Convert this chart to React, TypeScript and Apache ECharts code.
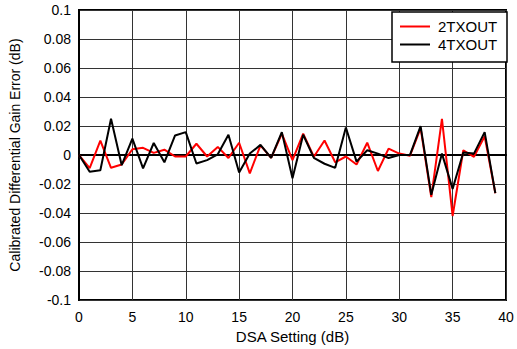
import React, { useEffect, useRef } from "react";
import * as echarts from "echarts";

const dsaSettings = Array.from({ length: 40 }, (_, i) => i);
const tx2 = [
  0, -0.009, 0.01, -0.0088, -0.0065, 0.004, 0.005, 0.0015, 0.0037, -0.001,
  -0.001, 0.0078, -0.001, 0.0056, -0.002, 0.0085, -0.0126, 0.0067, -0.002, 0.0147,
  -0.0035, 0.0147, -0.0012, 0.01, -0.005, -0.001, -0.0065, 0.0085, -0.011, 0.0044,
  0.001, -0.0005, 0.0186, -0.029, 0.0249, -0.042, 0.0033, -0.0012, 0.013, -0.0263,
];
const tx4 = [
  0, -0.0115, -0.0105, 0.025, -0.007, 0.0113, -0.0092, 0.0083, -0.005, 0.0135,
  0.0158, -0.0058, -0.0035, 0.0005, 0.014, -0.012, 0.001, 0.007, -0.002, 0.0158,
  -0.016, 0.014, -0.002, -0.006, -0.0088, 0.019, -0.0045, 0.0033, 0.001, -0.002,
  0, 0, 0.02, -0.0274, 0.001, -0.0233, 0.0017, 0.001, 0.0158, -0.0263,
];
const seriesNames = ["2TXOUT", "4TXOUT"];

export default function App() {
  const ref = useRef<HTMLDivElement>(null);
  useEffect(() => {
    const chart = echarts.init(ref.current!, undefined, { renderer: "svg" });
    const font = "'Liberation Sans', Arial, sans-serif";
    chart.setOption({
      animation: false,
      textStyle: { fontFamily: font },
      grid: {
        left: 79,
        right: 11,
        top: 10,
        bottom: 46,
        show: true,
        borderColor: "#000",
        borderWidth: 2,
        backgroundColor: "transparent",
      },
      xAxis: {
        type: "value",
        min: 0,
        max: 40,
        interval: 5,
        name: "DSA Setting (dB)",
        nameLocation: "middle",
        nameGap: 28,
        nameTextStyle: { fontSize: 15, color: "#000", fontFamily: font },
        axisLine: { show: true, lineStyle: { color: "#000", width: 2 } },
        axisTick: { show: false },
        axisLabel: { fontSize: 14, color: "#000", margin: 10, fontFamily: font },
        splitLine: { show: true, lineStyle: { color: "#333", width: 1 } },
      },
      yAxis: {
        type: "value",
        min: -0.1,
        max: 0.1,
        interval: 0.02,
        name: "Calibrated Differential Gain Error (dB)",
        nameLocation: "middle",
        nameGap: 57,
        nameTextStyle: { fontSize: 14, color: "#000", fontFamily: font },
        axisLine: { show: true, lineStyle: { color: "#000", width: 2 } },
        axisTick: { show: false },
        axisLabel: {
          fontSize: 14,
          color: "#000",
          margin: 8,
          fontFamily: font,
          formatter: (v: number) => String(Math.round(v * 100) / 100),
        },
        splitLine: { show: true, lineStyle: { color: "#333", width: 1 } },
      },
      legend: {
        orient: "vertical",
        left: 394,
        top: 12,
        z: 30,
        zlevel: 0,
        padding: [7, 8, 8, 6],
        itemGap: 3,
        itemWidth: 30,
        itemHeight: 15,
        textStyle: { fontSize: 15, color: "#000", fontFamily: font, padding: [0, 0, 0, 3] },
        data: seriesNames.map((n) => ({ name: n, icon: "path://M0,0 L30,0 L30,2 L0,2 Z" })),
      },
      graphic: [
        {
          type: "rect",
          shape: { x: 392, y: 12, width: 115, height: 50 },
          style: { fill: "#fff", stroke: "#000", lineWidth: 1.5 },
          z: 10,
          zlevel: 0,
        },
      ],
      series: [
        {
          name: seriesNames[0],
          type: "line",
          data: dsaSettings.map((x, i) => [x, tx2[i]]),
          symbol: "none",
          lineStyle: { color: "#ff0000", width: 2 },
          itemStyle: { color: "#ff0000" },
          z: 3,
        },
        {
          name: seriesNames[1],
          type: "line",
          data: dsaSettings.map((x, i) => [x, tx4[i]]),
          symbol: "none",
          lineStyle: { color: "#000", width: 2 },
          itemStyle: { color: "#000" },
          z: 4,
        },
      ],
    });
    return () => chart.dispose();
  }, []);
  return <div ref={ref} style={{ width: 517, height: 349, position: "absolute", left: 0, top: 0 }} />;
}
